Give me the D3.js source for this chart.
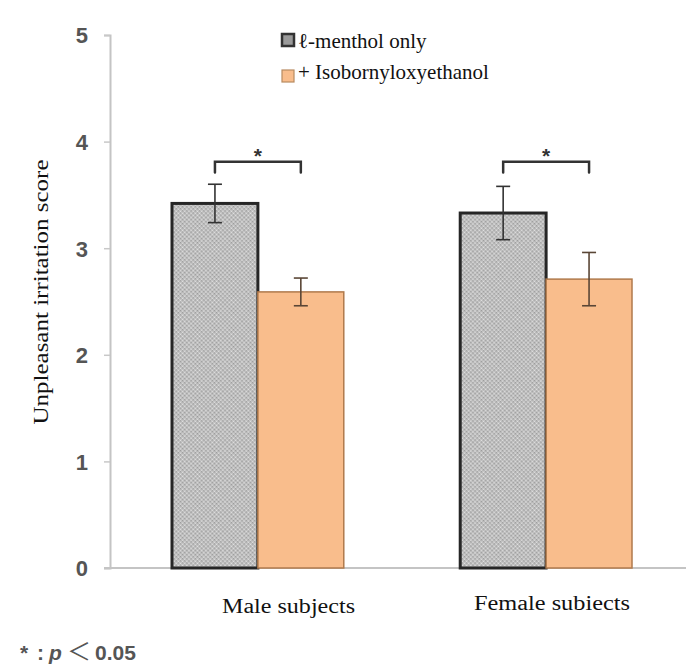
<!DOCTYPE html>
<html>
<head>
<meta charset="utf-8">
<script src="https://cdn.jsdelivr.net/npm/d3@7"></script>
<style>
  body { margin: 0; background: #fff; }
  svg { display: block; }
</style>
</head>
<body>
<svg id="plate" width="696" height="666"></svg>
<script>
// chart values
var groups = ['Male subjects', 'Female subiects'];
var series = ['\u2113-menthol only', '+ Isobornyloxyethanol'];
var mentholOnly = [3.42, 3.33];
var mentholErr = [0.18, 0.25];
var withIso = [2.59, 2.71];
var withIsoErr = [0.13, 0.25];
var yTicks = [0, 1, 2, 3, 4, 5];
var bracketLevel = [3.81, 3.81];
var sigMarks = ['*', '*'];

var SERIF = '"Liberation Serif", "Times New Roman", serif';
var SANS = '"Liberation Sans", Arial, sans-serif';

var svg = d3.select('#plate');

// pattern for the grey bars
var defs = svg.append('defs');
var pat = defs.append('pattern')
    .attr('id', 'stipple')
    .attr('patternUnits', 'userSpaceOnUse')
    .attr('width', 3)
    .attr('height', 3)
    .attr('patternTransform', 'rotate(45)');
pat.append('rect').attr('width', 3).attr('height', 3).attr('fill', '#c2c2c2');
pat.append('circle').attr('cx', 0.8).attr('cy', 0.8).attr('r', 0.7).attr('fill', '#8e8e8e');
pat.append('circle').attr('cx', 2.3).attr('cy', 2.3).attr('r', 0.6).attr('fill', '#eeeeee');

// scales
var y = d3.scaleLinear().domain([0, 5]).range([568, 35]);
var x0 = d3.scaleBand().domain(groups).range([172, 632]).paddingInner(0.404);
var x1 = d3.scaleBand().domain(series).range([0, x0.bandwidth()]);

var rows = groups.map((g, i) => ({
    group: g,
    bars: [
        {key: series[0], value: mentholOnly[i], err: mentholErr[i]},
        {key: series[1], value: withIso[i], err: withIsoErr[i]}
    ]
}));

// y axis
var yAxis = svg.append('g')
    .attr('transform', 'translate(110,0)')
    .call(d3.axisLeft(y).tickValues(yTicks).tickSize(6).tickPadding(16).tickFormat(d3.format('d')));
yAxis.select('.domain').attr('stroke', '#c4c4c4').attr('stroke-width', 2);
yAxis.selectAll('.tick line').attr('stroke', '#c8c8c8').attr('stroke-width', 1.5);
yAxis.selectAll('.tick text')
    .attr('dy', '0.36em')
    .style('font-family', SANS)
    .style('font-weight', 'bold')
    .style('font-size', '22px')
    .style('fill', '#555');

// baseline
svg.append('line')
    .attr('x1', 104).attr('x2', 686)
    .attr('y1', y(0)).attr('y2', y(0))
    .attr('stroke', '#c4c4c4').attr('stroke-width', 2);

// bars
var grp = svg.selectAll('.group')
    .data(rows)
    .enter().append('g')
    .attr('class', 'group')
    .attr('transform', (d) => 'translate(' + x0(d.group) + ',0)');

grp.selectAll('rect')
    .data((d) => d.bars)
    .enter().append('rect')
    .attr('x', (d) => x1(d.key))
    .attr('width', x1.bandwidth())
    .attr('y', (d) => y(d.value))
    .attr('height', (d) => y(0) - y(d.value))
    .attr('fill', (d, i) => i === 0 ? 'url(#stipple)' : '#f9bd8c')
    .attr('stroke', (d, i) => i === 0 ? '#262626' : '#b07a4c')
    .attr('stroke-width', (d, i) => i === 0 ? 3 : 1.5);

// error bars
var eb = grp.selectAll('.err')
    .data((d) => d.bars)
    .enter().append('g')
    .attr('class', 'err')
    .attr('stroke', (d, i) => i === 0 ? '#333' : '#5a4636')
    .attr('stroke-width', 1.6);
eb.append('line')
    .attr('x1', (d) => x1(d.key) + x1.bandwidth() / 2)
    .attr('x2', (d) => x1(d.key) + x1.bandwidth() / 2)
    .attr('y1', (d) => y(d.value + d.err))
    .attr('y2', (d) => y(d.value - d.err));
eb.selectAll('.cap')
    .data((d) => [d.value + d.err, d.value - d.err].map((v) => ({key: d.key, v: v})))
    .enter().append('line')
    .attr('x1', (d) => x1(d.key) + x1.bandwidth() / 2 - 7)
    .attr('x2', (d) => x1(d.key) + x1.bandwidth() / 2 + 7)
    .attr('y1', (d) => y(d.v))
    .attr('y2', (d) => y(d.v));

// significance brackets
grp.append('path')
    .attr('fill', 'none')
    .attr('stroke', '#333')
    .attr('stroke-width', 2.5)
    .attr('stroke-linecap', 'round')
    .attr('d', (d, i) => {
        var a = x1(series[0]) + x1.bandwidth() / 2;
        var b = x1(series[1]) + x1.bandwidth() / 2;
        var top = y(bracketLevel[i]);
        var foot = y(bracketLevel[i] - 0.1);
        return 'M' + a + ',' + foot + 'V' + top + 'H' + b + 'V' + foot;
    });
grp.append('text')
    .attr('x', x0.bandwidth() / 2)
    .attr('y', (d, i) => y(bracketLevel[i]) + 1)
    .attr('text-anchor', 'middle')
    .style('font-family', SANS)
    .style('font-weight', 'bold')
    .style('font-size', '21px')
    .style('fill', '#333')
    .text((d, i) => sigMarks[i]);

// group labels
var labelPos = [{x: 222, y: 613, len: 133}, {x: 474, y: 610, len: 156}];
svg.selectAll('.glabel')
    .data(groups)
    .enter().append('text')
    .attr('class', 'glabel')
    .attr('x', (d, i) => labelPos[i].x)
    .attr('y', (d, i) => labelPos[i].y)
    .attr('textLength', (d, i) => labelPos[i].len)
    .attr('lengthAdjust', 'spacingAndGlyphs')
    .style('font-family', SERIF)
    .style('font-size', '20px')
    .style('fill', '#111')
    .text((d) => d);

// y title
svg.append('text')
    .attr('transform', 'translate(48,292) rotate(-90)')
    .attr('text-anchor', 'middle')
    .attr('textLength', 265)
    .attr('lengthAdjust', 'spacingAndGlyphs')
    .style('font-family', SERIF)
    .style('font-size', '20px')
    .style('fill', '#111')
    .text('Unpleasant irritation score');

// legend
var legend = svg.append('g').attr('transform', 'translate(281,0)');
var legRows = [{sw: 33, base: 48}, {sw: 69, base: 79}];
legend.selectAll('rect')
    .data(series)
    .enter().append('rect')
    .attr('x', 1)
    .attr('y', (d, i) => legRows[i].sw + 1)
    .attr('width', 12)
    .attr('height', 12)
    .attr('fill', (d, i) => i === 0 ? '#9a9a9a' : '#f9bd8c')
    .attr('stroke', (d, i) => i === 0 ? '#333' : '#b88a60')
    .attr('stroke-width', (d, i) => i === 0 ? 2.5 : 1.2);
legend.selectAll('text')
    .data(series)
    .enter().append('text')
    .attr('x', 17)
    .attr('y', (d, i) => legRows[i].base)
    .style('font-family', SERIF)
    .style('font-size', '21px')
    .style('fill', '#111')
    .text((d) => d);

// footnote
var note = svg.append('text')
    .attr('y', 660)
    .style('font-family', SANS)
    .style('font-weight', 'bold')
    .style('font-size', '21px')
    .style('fill', '#555');
note.append('tspan').attr('x', 20).text('*');
note.append('tspan').attr('x', 37).text(':');
note.append('tspan').attr('x', 49).style('font-style', 'italic').text('p');
note.append('tspan').attr('x', 67)
    .style('font-family', '"Noto Sans CJK JP", sans-serif')
    .style('font-weight', 'normal')
    .style('font-size', '24px')
    .text('\uFF1C');
note.append('tspan').attr('x', 95).text('0.05');
</script>
</body>
</html>
